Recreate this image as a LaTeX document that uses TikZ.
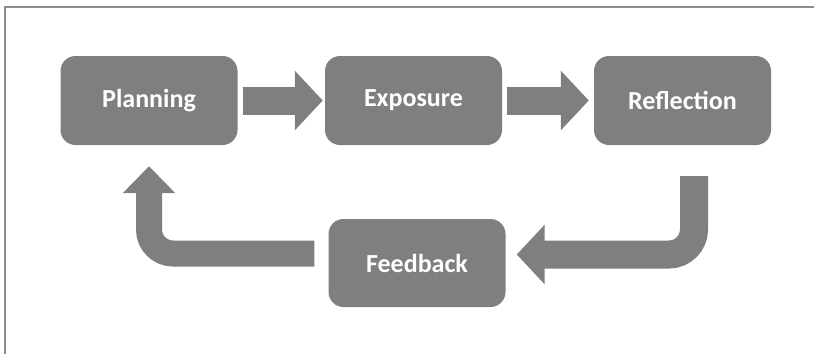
\documentclass[tikz,border=0pt]{standalone}
\usepackage{fontspec}
\setmainfont{Carlito}
\usetikzlibrary{arrows.meta}
\definecolor{grigio}{RGB}{127,127,127}
\begin{document}
\begin{tikzpicture}[x=1pt, y=1pt,
    box/.style={fill=grigio, rounded corners=15pt, minimum width=177pt, minimum height=89pt,
        text=white, font=\bfseries\fontsize{26}{30}\selectfont},
    freccia/.style={draw=grigio, line width=28pt, -{Triangle[length=28pt, width=58pt]}}]
    \useasboundingbox (0,0) rectangle (814,-354);
    % Cornice
    \draw[grigio!90, line width=2.5pt] (5,-354) -- (5,-7) -- (814,-7);

    % Riquadri
    \node[box] (plan) at (149,-100.5) {Planning};
    \node[box] (expo) at (413.5,-100.5) {Exposure};
    \node[box] (refl) at (682.5,-100.5) {Reflection};
    \node[box, minimum height=88pt] (feed) at (417,-263) {Feedback};

    % Frecce
    \draw[freccia, shorten <=5pt, shorten >=2pt] (plan) -- (expo);
    \draw[freccia, shorten <=5pt, shorten >=5pt] (expo) -- (refl);
    \draw[freccia, rounded corners=25pt] ([xshift=11.5pt, yshift=-31pt]refl.south)
        |- ([xshift=11pt, yshift=8.5pt]feed.east);
    \draw[freccia, line width=26pt, rounded corners=24pt, -{Triangle[length=27pt, width=51pt]}]
        ([xshift=-14pt, yshift=9.5pt]feed.west) -| ([yshift=-21pt]plan.south);

\end{tikzpicture}
\end{document}
